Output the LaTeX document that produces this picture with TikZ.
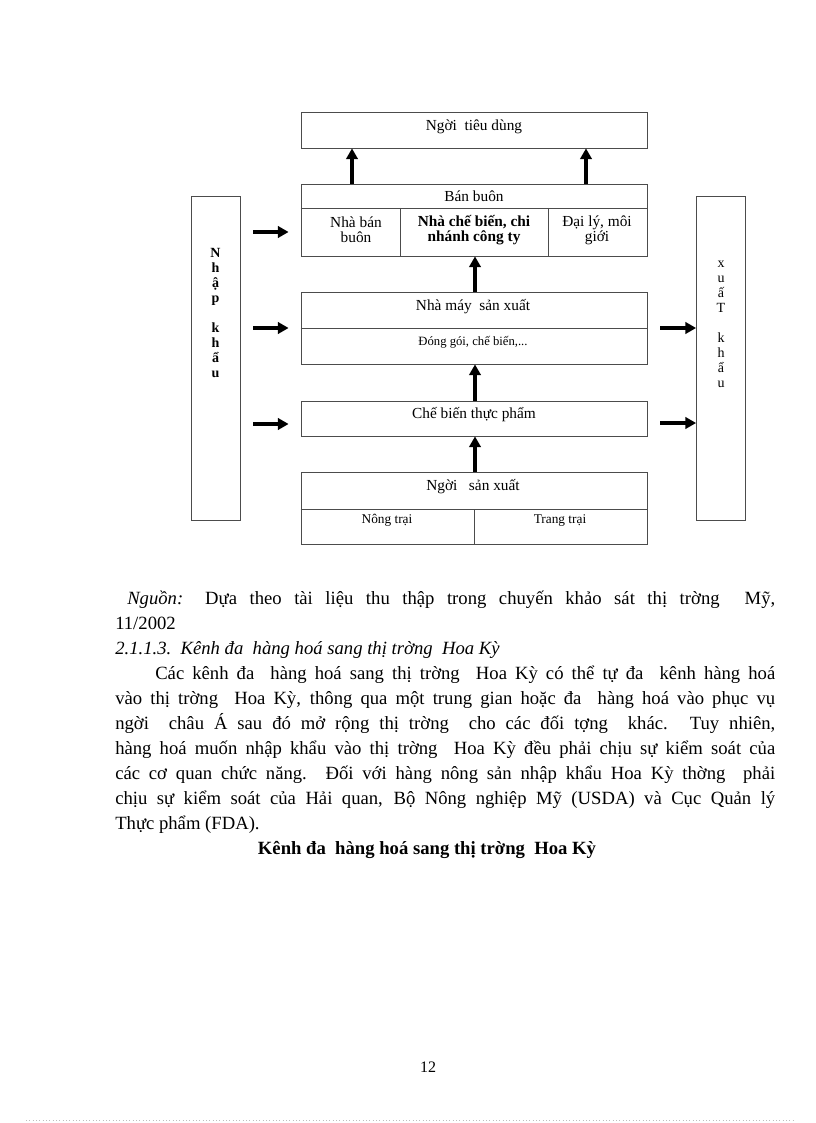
\documentclass[tikz,border=0pt]{standalone}
\usepackage{fontspec}
\setmainfont{Liberation Serif}
\usetikzlibrary{arrows.meta}

\begin{document}
\begin{tikzpicture}[
  x=0.75pt, y=-0.75pt,
  box/.style={draw=black!70, line width=0.6pt, inner sep=0pt},
  wideBox/.style={box, minimum width=346*0.75pt},
  sideBox/.style={box, minimum width=49*0.75pt, minimum height=324*0.75pt},
  lbl/.style={font=\fontsize{11.5}{11.25}\selectfont, align=center, inner sep=0pt},
  baseLbl/.style={lbl, anchor=base},
  smallLbl/.style={font=\fontsize{9.5}{11}\selectfont, inner sep=0pt, anchor=base},
  vlbl/.style={font=\fontsize{10.5}{11.25}\selectfont, align=center, inner sep=0pt},
  flow/.style={line width=2.3pt, -{Triangle[length=8pt,width=8.5pt]}},
  bodytext/.style={anchor=north west, inner sep=0pt, text width=495pt, align=justify,
    font=\fontsize{14}{18.75}\selectfont}
]
\useasboundingbox (0,0) rectangle (816,1123);

% --- boxes of the channel ---
\node[wideBox, minimum height=36*0.75pt] (consumer) at (474,130) {};
\node[wideBox, minimum height=72*0.75pt] (wholesale) at (474,220) {};
\node[wideBox, minimum height=72*0.75pt] (factory) at (474,328) {};
\node[wideBox, minimum height=35*0.75pt] (processing) at (474,418.5) {};
\node[wideBox, minimum height=72*0.75pt] (producer) at (474,508) {};
\node[sideBox] (import) at (215.5,358) {};
\node[sideBox] (export) at (721,358) {};

% --- inner rules ---
\draw[black!70, line width=0.6pt] (wholesale.west |- 0,208) -- (wholesale.east |- 0,208);
\draw[black!70, line width=0.6pt] (400,208) -- (wholesale.south -| 400,0);
\draw[black!70, line width=0.6pt] (548,208) -- (wholesale.south -| 548,0);
\draw[black!70, line width=0.6pt] (factory.west) -- (factory.east);
\draw[black!70, line width=0.6pt] (producer.west |- 0,509) -- (producer.east |- 0,509);
\draw[black!70, line width=0.6pt] (474,509) -- (producer.south -| 474,0);

% --- labels ---
\node[baseLbl] (consumerT) at (474,131) {Ngời\ \ tiêu dùng};
\node[baseLbl] (wholesaleT) at (474,202) {Bán buôn};
\node[lbl] (dealer) at (356,230) {Nhà bán\\buôn};
\node[lbl, font=\fontsize{11.5}{11.25}\selectfont\bfseries] (branch) at (474,230) {Nhà chế biến, chi\\nhánh công ty};
\node[lbl] (agent) at (597,230) {Đại lý, môi\\giới};
\node[baseLbl] (factoryT) at (473,310) {Nhà máy\ \ sản xuất};
\node[smallLbl] (packing) at (473,345) {Đóng gói, chế biến,...};
\node[baseLbl] (processingT) at (474,418) {Chế biến thực phẩm};
\node[baseLbl] (producerT) at (473,490) {Ngời\ \ \ sản xuất};
\node[smallLbl, font=\fontsize{10}{11}\selectfont] (farm) at (387,523) {Nông trại};
\node[smallLbl, font=\fontsize{10}{11}\selectfont] (ranch) at (560,523) {Trang trại};
\node[vlbl, font=\fontsize{10.5}{11.25}\selectfont\bfseries] (importT) at (215.5,313) {N\\h\\ậ\\p\\[11.25pt]k\\h\\ẩ\\u};
\node[vlbl] (exportT) at (721,324.5) {x\\u\\ấ\\T\\[11.25pt]k\\h\\ẩ\\u};

% --- flows upward ---
\draw[flow] (wholesale.north -| 352,0) -- (consumer.south -| 352,0);
\draw[flow] (wholesale.north -| 586,0) -- (consumer.south -| 586,0);
\draw[flow] (factory.north -| 475,0) -- (wholesale.south -| 475,0);
\draw[flow] (processing.north -| 475,0) -- (factory.south -| 475,0);
\draw[flow] (producer.north -| 475,0) -- (processing.south -| 475,0);

% --- import and export flows ---
\draw[flow, shorten <=13*0.75pt, shorten >=12*0.75pt] (import.east |- 0,232) -- (wholesale.west |- 0,232);
\draw[flow, shorten <=13*0.75pt, shorten >=12*0.75pt] (import.east |- 0,328) -- (factory.west);
\draw[flow, shorten <=13*0.75pt, shorten >=12*0.75pt] (import.east |- 0,424) -- (processing.west |- 0,424);
\draw[flow, shorten <=13*0.75pt] (factory.east) -- (export.west |- factory.east);
\draw[flow, shorten <=13*0.75pt] (processing.east |- 0,423) -- (export.west |- 0,423);

% --- text of the page ---
\node[bodytext] (source) at (115,586.5) {\strut\hspace*{9pt}\textit{Nguồn:} Dựa theo tài liệu thu thập trong chuyến khảo sát thị trờng\ \ Mỹ,\linebreak
11/2002\par
\textit{2.1.1.3.\ \ Kênh đa\ \ hàng hoá sang thị trờng\ \ Hoa Kỳ}\par
\hspace*{30pt}Các kênh đa\ \ hàng hoá sang thị trờng\ \ Hoa Kỳ có thể tự đa\ \ kênh hàng hoá\linebreak
vào thị trờng\ \ Hoa Kỳ, thông qua một trung gian hoặc đa\ \ hàng hoá vào phục vụ\linebreak
ngời\ \ châu Á sau đó mở rộng thị trờng\ \ cho các đối tợng\ \ khác. Tuy nhiên,\linebreak
hàng hoá muốn nhập khẩu vào thị trờng\ \ Hoa Kỳ đều phải chịu sự kiểm soát của\linebreak
các cơ quan chức năng. Đối với hàng nông sản nhập khẩu Hoa Kỳ thờng\ \ phải\linebreak
chịu sự kiểm soát của Hải quan, Bộ Nông nghiệp Mỹ (USDA) và Cục Quản lý\linebreak
Thực phẩm (FDA).};
\node[font=\fontsize{14}{18.75}\selectfont\bfseries, anchor=base, inner sep=0pt] (title) at (427,854) {Kênh đa\ \ hàng hoá sang thị trờng\ \ Hoa Kỳ};
\node[font=\fontsize{12}{14}\selectfont, anchor=base, inner sep=0pt] (pagenum) at (428,1072) {12};
\draw[black!25, dotted, line width=0.5pt] (26,1120) -- (793,1120);

\end{tikzpicture}
\end{document}
